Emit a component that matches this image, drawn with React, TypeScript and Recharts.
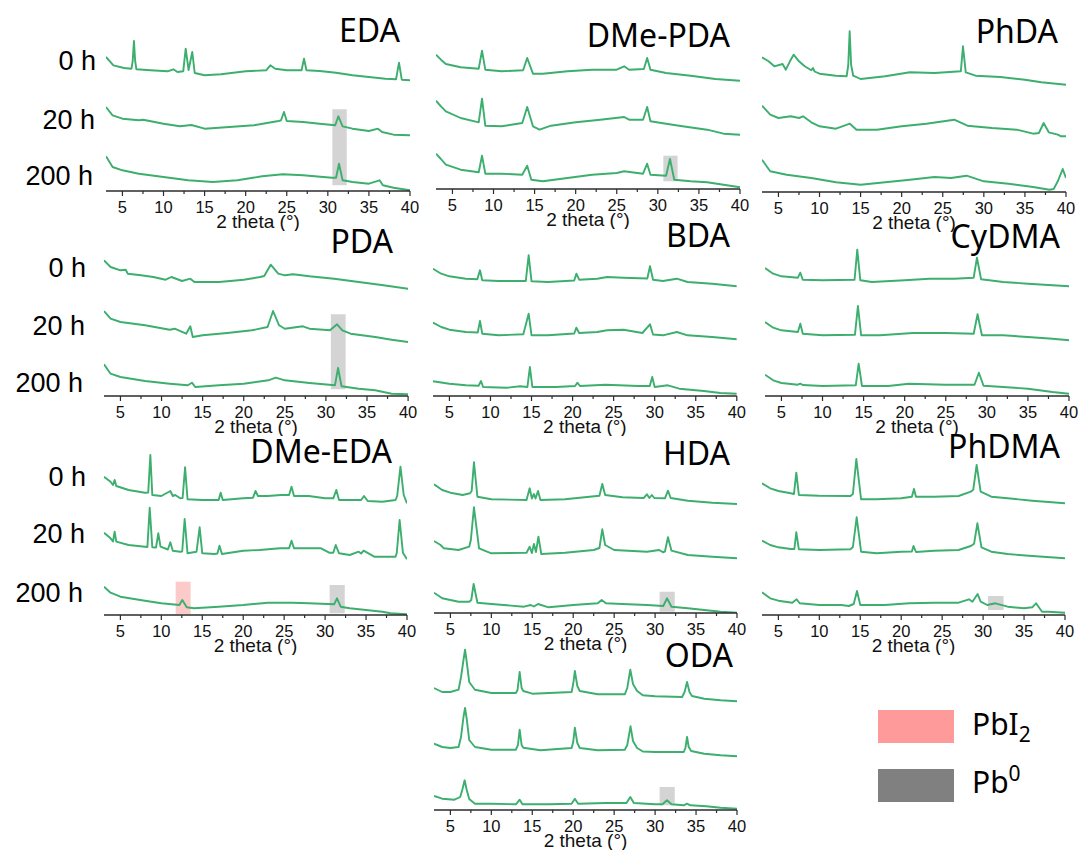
import React from "react";
import { LineChart, Line, XAxis, YAxis, ReferenceArea } from "recharts";

type Pt = [number, number];

// ---------- axis / text ----------
const TICKS = [5, 7.5, 10, 12.5, 15, 17.5, 20, 22.5, 25, 27.5, 30, 32.5, 35, 37.5, 40];
const X_LABEL = "2 theta (°)";
const TIME_LABELS = ["0 h", "20 h", "200 h"];
const LEGEND_NAMES = ["PbI", "Pb"];

// ---------- data: [2theta, intensity above own baseline] ----------
const EDA_0H: Pt[] = [[3,24],[3.9,15.7],[5.2,13],[6.1,12.3],[6.25,20],[6.4,40],[6.55,20],[6.7,11.7],[8.4,10.7],[10.5,9.7],[11.2,11.7],[11.7,9],[12.4,9.7],[12.7,32.3],[13.05,11],[13.5,29],[13.8,8],[15,5.7],[17,6.7],[20,9.7],[22.5,10.7],[23,15.7],[23.6,12.3],[25,10.7],[26.8,10.7],[27.1,22.3],[27.4,10.7],[29,10],[31,8.3],[33,5.7],[35,4],[37,2.3],[38.3,1.7],[38.66,18.3],[39,1.3],[40,0.7]];
const EDA_20H: Pt[] = [[3,29],[3.8,20.7],[5,17.3],[7,15.7],[7.5,16.3],[8,15.5],[10,12.3],[12,9.7],[13.4,11],[15,7.3],[18,9],[21,10.7],[24,15],[24.3,15.7],[24.66,24],[25,15],[27,14],[29,12.3],[30.9,10.7],[31.28,19.7],[31.8,9.7],[33,7.3],[35,5],[36.1,7.3],[36.6,4],[38,1.3],[40,0.7]];
const EDA_200H: Pt[] = [[3,34.7],[3.8,24],[5,20.7],[7,17.3],[10,14],[13,10.7],[16,9],[19,10.7],[22,14.7],[24.5,16.7],[27,15.7],[30.5,13.3],[31,13.3],[31.36,27.3],[31.8,10.7],[33,9],[35,7.3],[36.3,10.7],[36.7,5.7],[38,3.3],[40,0.7]];

const DMEPDA_0H: Pt[] = [[3,26.3],[3.6,21.3],[4.2,17],[6,13.7],[8.2,12.3],[8.6,30.3],[9,11.3],[11,9.7],[13.6,10.7],[14.1,23],[14.8,7.3],[16,7.3],[19,9.7],[22,11.3],[25,11.3],[25.9,14.7],[26.5,11.3],[28.3,12],[28.7,23],[29.1,11.3],[31,8],[34,5.3],[37,2],[40,0.3]];
const DMEPDA_20H: Pt[] = [[3,34.3],[3.6,28.7],[4.2,23.7],[6,17],[8.2,12.7],[8.6,36.3],[9,9.3],[11,8.7],[13.5,12],[14.1,28],[14.8,8.7],[15.6,5.3],[17,9.3],[20,12.7],[23,15.3],[25.9,18],[26.5,15.3],[28.2,15.3],[28.7,28],[29.1,13.7],[31,11.3],[33,8.7],[36,5.3],[38,1.3],[40,0.3]];
const DMEPDA_200H: Pt[] = [[3,35.3],[3.6,30],[4.2,24.3],[6,19.3],[8.2,16.7],[8.6,33.3],[9,15.3],[11,15.3],[13.5,14.3],[14.1,23.3],[14.6,9.3],[16,7.7],[19,11],[22,14.3],[25,16],[25.9,17.7],[28.2,15.3],[28.7,25.3],[29.1,14.3],[31,13.3],[31.48,30],[32,9.3],[34,7.7],[36,6.7],[38,4.3],[40,1.7]];

const PHDA_0H: Pt[] = [[3,27.7],[3.8,23.7],[4.5,18.7],[5.5,21],[5.9,15.3],[6.4,23.7],[6.85,30.3],[7.5,23.7],[8.2,18.7],[9,14.7],[9.2,17],[9.4,13.5],[10,11.3],[12,9.3],[13.3,8.7],[13.5,20],[13.67,53.7],[13.85,20],[14.1,9.3],[15,6],[18,8.7],[21,12.7],[24,12],[27.2,13.7],[27.46,38.7],[27.8,12.7],[29,9.3],[32,8],[35,5.3],[37,2.7],[40,0.3]];
const PHDA_20H: Pt[] = [[3,31.3],[4,22.3],[5,19],[6.5,20.7],[7.5,19],[8,20.7],[9,14.7],[10,10.7],[12,8.3],[13.7,13.3],[14.5,7.3],[17,7.3],[20,10.7],[23,13.3],[26.4,17.3],[28,11.3],[31,9],[34,7.3],[36,3.3],[36.7,4],[37.28,14],[37.9,4.7],[39,2.3],[39.4,0.7],[40,0.7]];
const PHDA_200H: Pt[] = [[3,32.3],[4,20.7],[6,17.3],[9,14],[12,9.7],[15,7.3],[18,9.7],[21,12.3],[24,15],[26,14],[27.9,16.3],[30,10.7],[33,8.3],[36,5],[38,2.3],[38.5,3],[39,10.7],[39.6,23],[40,14]];

const PDA_0H: Pt[] = [[3,28.7],[3.8,22],[5,18.7],[5.64,19.3],[5.9,15.3],[7.5,13.7],[9,12],[10.5,9.3],[11.2,12],[12.5,8],[13.5,10.3],[14,7],[17,7],[20,9.3],[22,12],[22.5,13],[23.28,24.3],[24.2,15.3],[25,13.7],[26,14.7],[28,12.7],[31,10.3],[34,7],[37,3.7],[40,0.3]];
const PDA_20H: Pt[] = [[3,31],[3.8,23.3],[5,20],[8,16.7],[11,12.3],[11.6,13.3],[13,8.3],[13.5,15.7],[13.8,5],[15,6.7],[18,9],[21,11.7],[22.9,15],[23.57,31],[24.3,16.7],[25,13.3],[27.2,15.7],[28,13.3],[30.5,11.7],[31.36,17.7],[32,11.7],[33,8.3],[36,5],[38,2.3],[40,0]];
const PDA_200H: Pt[] = [[3,31.7],[3.8,22.3],[5,19],[8,15],[11,12.3],[13.2,10.7],[13.7,13.3],[14.1,9],[17,10.7],[20,12.3],[23,15.7],[23.9,18.3],[25,15.7],[28,13],[31.1,10.7],[31.48,28],[31.9,9.7],[34,7.3],[36,5.7],[38,2.3],[40,1.7]];

const BDA_0H: Pt[] = [[3,18.3],[4,13.3],[5,10.7],[7,8.3],[8.4,7.7],[8.72,16.7],[9,6.7],[11,6],[14.3,6],[14.65,31.7],[15,5.7],[17,5],[20.2,6.5],[20.46,13.3],[20.8,7.3],[23,8.3],[24.2,10],[26.2,9.3],[29.1,8.5],[29.43,20.7],[29.8,7.3],[31,6],[32.7,8.3],[34,5],[37,3.3],[40,0.7]];
const BDA_20H: Pt[] = [[3,17.3],[4,13],[5,10.3],[7,8],[8.45,7.5],[8.72,19],[9,6.3],[11,4.7],[14,5.7],[14.65,26.3],[15,4.7],[17,4.7],[20.2,6.5],[20.46,12.3],[20.8,7],[23,8],[24.2,9.7],[26.2,10.3],[28.5,7],[29.43,15.7],[29.8,5.5],[31,4.7],[32.7,8],[34,4.7],[37,3],[40,0.7]];
const BDA_200H: Pt[] = [[3,14.7],[5,12.3],[7,10.7],[8.55,10.3],[8.85,15],[9.1,9],[12,8.3],[13.6,9.7],[14.5,9],[14.8,29],[15.1,9],[18,9],[20.3,10],[20.58,13.3],[20.9,10],[24,11.3],[28,10],[29.4,10],[29.7,19],[30,9],[31.6,10.7],[33,7.3],[36,5],[38,3],[40,2.3]];

const CYDMA_0H: Pt[] = [[3,19],[4,13.3],[5,10.7],[7,9.3],[7.3,14.3],[7.6,7.3],[10,6.7],[13.9,7.3],[14.23,37.3],[14.6,6.7],[16,5],[20,6.7],[23,8.3],[26,8.3],[28.4,9.3],[28.8,29.3],[29.3,7.7],[32,5],[35,3.3],[38,1.7],[40,0.7]];
const CYDMA_20H: Pt[] = [[3,19],[4,13.3],[5,10.7],[7,9],[7.3,17.3],[7.6,7.3],[10,5.7],[13.95,6.3],[14.31,35],[14.7,5.7],[17,5.7],[21,8],[25,8],[28.4,7.3],[28.87,26.7],[29.4,5.7],[32,5.7],[35,4],[38,2.3],[40,0.7]];
const CYDMA_200H: Pt[] = [[3,21.3],[4,15.7],[5,13],[7,11.3],[7.3,12.3],[7.6,11],[10,10],[14.05,10.7],[14.4,32.3],[14.8,10],[18,10],[20.5,12.3],[25,11.3],[28.5,11.3],[29.03,23.3],[29.6,10.3],[32,9],[35,7.3],[38,4],[40,2.3]];

const DMEEDA_0H: Pt[] = [[3,27.3],[3.8,22.3],[4.1,19],[4.3,24],[4.5,18],[6,14],[8,11.3],[8.4,11.5],[8.66,49],[8.9,9],[10,8],[11.1,13],[11.4,8],[11.7,9],[12.3,5.7],[12.6,6],[12.9,36.7],[13.2,4.7],[15,4],[17,4],[17.25,11.3],[17.5,4],[20,5.7],[21.2,6.3],[21.5,13],[21.8,8],[23,8],[24.6,9],[25.6,9],[25.9,17.3],[26.2,8],[28,8],[30,5.7],[31,5.7],[31.37,14],[31.7,4],[33,4],[34.4,4],[34.75,8],[35.2,3],[37,2.3],[38.6,4],[38.8,8],[39.2,37.3],[39.6,9],[40,0.7]];
const DMEEDA_20H: Pt[] = [[3,27.3],[3.8,21.7],[4.1,18.5],[4.3,28.3],[4.5,18.3],[6,15],[8,13.3],[8.3,13],[8.58,52.3],[8.9,12.7],[9.35,12.5],[9.63,26.7],[9.9,13.3],[10.8,10.5],[11.1,17.7],[11.4,9.3],[12.3,8.3],[12.55,8.5],[12.85,41],[13.2,6.7],[14.3,8.3],[14.68,32.7],[15,6.7],[16.5,6],[16.85,6.5],[17.1,14.3],[17.4,6],[20,9.3],[22,10],[24.5,11.7],[25.6,11.7],[25.9,19.3],[26.2,11.7],[28,11.7],[29.5,11.7],[30.5,7.3],[31,7.3],[31.3,15],[31.7,6.7],[33,5],[34.1,8.3],[34.4,6.5],[34.7,9.3],[36,3.3],[38.6,3.3],[38.75,7],[39.1,40],[39.5,7.3],[40,0.7]];
const DMEEDA_200H: Pt[] = [[3,28.3],[3.8,22.3],[5,18.3],[8,14.3],[10,11.7],[12.2,10],[12.56,15],[13.1,7.7],[14,6.7],[17,8.3],[20,10],[23,12.3],[26,12.3],[28,11.7],[31.1,10.7],[31.45,16.7],[31.9,8.3],[33,6.7],[35,5],[37,3.3],[38,1.7],[40,0.7]];

const HDA_0H: Pt[] = [[3,19.7],[4,14],[5,11.3],[6.5,9],[7.4,10.7],[7.6,13],[7.88,41.7],[8.3,7.3],[10,4.7],[14.3,4],[14.68,15.7],[14.95,5.5],[15.2,10],[15.4,5.5],[15.7,13],[16,4],[19,4.7],[23.2,8.3],[23.55,20],[23.9,9],[26,6.7],[28.6,6],[29,9.7],[29.3,6],[29.6,9],[29.9,6],[31.2,5.7],[31.57,13.3],[31.9,6],[34,3.3],[37,1.3],[40,0]];
const HDA_20H: Pt[] = [[3,18],[3.8,14],[4.2,10.7],[6,9],[7.3,12.3],[7.5,19],[7.88,51.7],[8.5,10.7],[10,5.7],[14.3,6.3],[14.68,12.3],[14.95,6],[15.2,15],[15.45,7],[15.75,22.3],[16.1,5],[19,6.3],[22.5,9],[23.2,11],[23.55,29.7],[23.9,14],[25,9],[29,7.3],[30.5,9],[31,6.7],[31.2,7.5],[31.57,21.7],[32,8.3],[34,4],[37,2.3],[40,0.7]];
const HDA_200H: Pt[] = [[3,20.3],[4,14.7],[6,11.3],[7.3,11.3],[7.55,13],[7.84,29],[8.3,10.3],[10,9],[14,6.3],[14.8,8],[15.2,6.5],[15.7,9],[17,5.7],[20,8],[23,9.7],[23.47,13],[24,9.7],[26,9],[29,8],[31,7],[31.45,14.7],[32,6.3],[34,4.7],[36,3],[38,1.3],[40,0.3]];

const PHDMA_0H: Pt[] = [[3,20.7],[4,15.7],[5,13],[6.5,10.7],[6.9,10],[7.19,31.3],[7.5,9],[10,8.3],[13.8,8],[14.1,10],[14.52,45],[15.1,4.7],[17,4.7],[20,5.7],[21.3,7.3],[21.56,15],[21.8,7.3],[24,7.3],[27,8],[28.5,12.3],[28.8,14.3],[29.21,39],[29.7,12.3],[31,7.3],[33,5.7],[36,3.3],[40,0.7]];
const PHDMA_20H: Pt[] = [[3,18.3],[4,14],[5,11.7],[6.5,10],[6.95,10],[7.19,26.7],[7.5,9.7],[10,9],[13.8,9.7],[14.1,12],[14.56,41.7],[15.1,7.3],[17,5.7],[20,7.3],[21.3,7.5],[21.5,13],[21.8,7],[24,8.3],[27,9],[28.5,13],[28.9,15.3],[29.3,35.7],[29.8,11.7],[31,7.3],[33,5],[36,3],[40,0.7]];
const PHDMA_200H: Pt[] = [[3,22.7],[4,16.7],[5,14.3],[6.7,12.3],[7.23,15.7],[7.6,11.7],[10,10],[12.7,10],[13.6,9],[14.2,11],[14.6,24],[15,10],[18,10],[21,11.7],[24,12.3],[27,12.3],[28.27,15.7],[28.7,13.3],[29.33,21],[29.7,13.3],[30.5,10],[31.5,11.7],[33,8.3],[35,6.7],[36,7.7],[36.46,11.7],[37.2,3.3],[38,3.3],[40,2.3]];

const ODA_0H: Pt[] = [[3,14],[4,10],[5,10],[6,12.3],[6.3,25],[6.6,42],[6.79,52.3],[7,40],[7.3,20],[8,12.3],[10,9],[13,9],[13.2,12],[13.46,30],[13.7,14],[13.9,11],[15,8.3],[19.8,10],[20,18],[20.2,31],[20.5,16],[20.8,11],[23,7.7],[26.3,7.7],[26.6,14],[26.97,32.3],[27.3,18],[27.8,11],[28.5,6.7],[30,5.7],[33.3,5],[33.6,10],[33.9,20],[34.2,10],[34.5,6],[36,3.3],[38,1.7],[40,0.7]];
const ODA_20H: Pt[] = [[3,13.3],[4,10],[5,9],[6,10],[6.3,20],[6.6,40],[6.79,49],[7,38],[7.3,17],[8,10],[10,7.3],[13,7.3],[13.25,12],[13.46,27.3],[13.7,12],[13.9,9.3],[16,6.7],[19.8,9],[20,15],[20.2,29.3],[20.5,14],[20.8,9],[23,6.7],[26.3,7.3],[26.6,12],[27,30.7],[27.3,16],[27.8,9],[28.5,5.5],[30,5],[33.5,5],[33.7,9],[33.9,20],[34.1,10],[34.4,6],[36,3.3],[38,1.7],[40,0.7]];
const ODA_200H: Pt[] = [[3,14],[4,11.3],[5.5,10.3],[6.2,13],[6.45,20],[6.74,29.7],[7,20],[7.3,11],[8,6.3],[10,6.3],[13,5.7],[13.46,10.3],[13.8,5.7],[17,5.7],[19.8,6.3],[20.2,11.3],[20.6,6.3],[24,7],[26.5,7],[26.97,13],[27.4,7],[30,5.7],[30.9,5.7],[31.45,9.7],[32,5.7],[33.5,4.7],[33.9,6.3],[34.3,4.7],[36.25,3.7],[38,2.3],[40,1.3]];

// vertical stacking offsets (0 h, 20 h, 200 h)
const OFFSETS: Record<string, number[]> = {
  EDA: [110, 55, 0], "DMe-PDA": [108, 54, 0], PhDA: [107, 55, 0],
  PDA: [107, 54, 0], BDA: [109, 56, 0], CyDMA: [109, 55, 0],
  "DMe-EDA": [111, 55, 0], HDA: [109, 54, 0], PhDMA: [111, 56, 0],
  ODA: [108, 53, 0],
};

// highlighted phases: [kind, x1, x2, y1, y2]
type Mark = ["PbI2" | "Pb0", number, number, number, number];
const MARKS: Record<string, Mark[]> = {
  EDA: [["Pb0", 30.55, 32.3, 5.7, 81.7]],
  "DMe-PDA": [["Pb0", 30.67, 32.4, 7.7, 33.3]],
  PDA: [["Pb0", 30.6, 32.4, 6.7, 81.7]],
  "DMe-EDA": [["PbI2", 11.75, 13.58, 1, 33.3], ["Pb0", 30.55, 32.4, 1.7, 30]],
  HDA: [["Pb0", 30.55, 32.4, 1.3, 21.3]],
  PhDMA: [["Pb0", 30.6, 32.5, 5, 19]],
  ODA: [["Pb0", 30.55, 32.4, 4.7, 23]],
};

const SERIES: Record<string, Pt[][]> = {
  EDA: [EDA_0H, EDA_20H, EDA_200H],
  "DMe-PDA": [DMEPDA_0H, DMEPDA_20H, DMEPDA_200H],
  PhDA: [PHDA_0H, PHDA_20H, PHDA_200H],
  PDA: [PDA_0H, PDA_20H, PDA_200H],
  BDA: [BDA_0H, BDA_20H, BDA_200H],
  CyDMA: [CYDMA_0H, CYDMA_20H, CYDMA_200H],
  "DMe-EDA": [DMEEDA_0H, DMEEDA_20H, DMEEDA_200H],
  HDA: [HDA_0H, HDA_20H, HDA_200H],
  PhDMA: [PHDMA_0H, PHDMA_20H, PHDMA_200H],
  ODA: [ODA_0H, ODA_20H, ODA_200H],
};

// ---------- layout ----------
const LAYOUT: { name: string; left: number; right: number; axisY: number; tx: number; ty: number }[] = [
  { name: "EDA", left: 106, right: 410, axisY: 190.7, tx: 400, ty: 41.7 },
  { name: "DMe-PDA", left: 436, right: 740, axisY: 189.3, tx: 730, ty: 46.7 },
  { name: "PhDA", left: 761.7, right: 1065.7, axisY: 192.3, tx: 1058, ty: 43.3 },
  { name: "PDA", left: 104.2, right: 408.3, axisY: 395.7, tx: 393, ty: 253.3 },
  { name: "BDA", left: 432.9, right: 736.7, axisY: 395.7, tx: 730, ty: 246.7 },
  { name: "CyDMA", left: 765.3, right: 1069.3, axisY: 395.7, tx: 1060, ty: 248.3 },
  { name: "DMe-EDA", left: 104.3, right: 407.3, axisY: 615, tx: 392, ty: 463.3 },
  { name: "HDA", left: 434.3, right: 737.3, axisY: 613, tx: 730, ty: 465 },
  { name: "PhDMA", left: 762, right: 1065, axisY: 615, tx: 1060, ty: 458.3 },
  { name: "ODA", left: 434.3, right: 737.3, axisY: 809.7, tx: 733, ty: 666.7 },
];

const ROW_LABELS: { row: number; right: number[]; base: number[] }[] = [
  { row: 0, right: [96, 95, 93], base: [70, 129.3, 185] },
  { row: 1, right: [86, 85, 83], base: [276.7, 335, 391.7] },
  { row: 2, right: [86, 85, 83], base: [486, 543.3, 601.7] },
];

const GREEN = "#3cae6e";
const AXIS = "#2b2b2b";
const PLOT_H = 175;
const AXIS_H = 40;
const SIDE = 20;
const MARK_FILL = { PbI2: "#fdcaca", Pb0: "#d4d4d4" };
const ARIAL = "'Liberation Sans', Arial, sans-serif";
const SANS = "'Noto Sans', 'Open Sans', sans-serif";

const Tick = (props: any) => {
  const { x, y, payload } = props;
  const v = payload.value as number;
  const major = v % 5 === 0;
  return (
    <g>
      <line x1={x} x2={x} y1={y} y2={y + (major ? 5 : 3)} stroke={AXIS} strokeWidth={1.2} />
      {major && (
        <text x={x} y={y + 22} textAnchor="middle" fontSize={16.5} fontFamily={ARIAL} fill="#111">
          {v}
        </text>
      )}
    </g>
  );
};

function Panel({ cfg }: { cfg: (typeof LAYOUT)[number] }) {
  const plotW = cfg.right - cfg.left;
  const offs = OFFSETS[cfg.name];
  const traces = SERIES[cfg.name].map((t, i) => t.map(([x, y]) => ({ x, y: y + offs[i] })));
  const marks = MARKS[cfg.name] || [];
  return (
    <div style={{ position: "absolute", left: cfg.left - SIDE, top: cfg.axisY - PLOT_H }}>
      <LineChart
        width={plotW + 2 * SIDE}
        height={PLOT_H + AXIS_H}
        margin={{ top: 0, right: SIDE, bottom: 0, left: SIDE }}
        style={{ overflow: "visible" }}
      >
        <XAxis
          type="number"
          dataKey="x"
          domain={[3, 40]}
          ticks={TICKS}
          interval={0}
          allowDataOverflow
          height={AXIS_H}
          tickSize={0}
          tickMargin={0}
          tickLine={false}
          tick={<Tick />}
          axisLine={{ stroke: AXIS, strokeWidth: 1.5 }}
          label={{ value: X_LABEL, position: "insideBottom", offset: 3, fontSize: 19, fontFamily: ARIAL, fill: "#111" }}
        />
        <YAxis hide type="number" domain={[0, PLOT_H]} allowDataOverflow />
        {marks.map((m, i) => (
          <ReferenceArea
            key={"m" + i}
            x1={m[1]}
            x2={m[2]}
            y1={m[3]}
            y2={m[4]}
            fill={MARK_FILL[m[0]]}
            fillOpacity={1}
            stroke="none"
          />
        ))}
        {traces.map((d, i) => (
          <Line
            key={i}
            data={d}
            dataKey="y"
            type="linear"
            stroke={GREEN}
            strokeWidth={1.9}
            strokeLinejoin="round"
            dot={false}
            activeDot={false}
            isAnimationActive={false}
          />
        ))}
      </LineChart>
    </div>
  );
}

export default function App() {
  return (
    <div style={{ position: "absolute", left: 0, top: 0, width: 1079, height: 852, background: "#fff", overflow: "hidden" }}>
      {LAYOUT.map((cfg) => (
        <Panel key={cfg.name} cfg={cfg} />
      ))}
      <svg width={1079} height={852} style={{ position: "absolute", left: 0, top: 0, pointerEvents: "none" }}>
        {LAYOUT.map((cfg) => (
          <text key={cfg.name} x={cfg.tx} y={cfg.ty} textAnchor="end" fontSize={32} fontFamily={SANS} fill="#000">
            {cfg.name}
          </text>
        ))}
        {ROW_LABELS.map((r) =>
          TIME_LABELS.map((t, i) => (
            <text key={r.row + t} x={r.right[i]} y={r.base[i]} textAnchor="end" fontSize={27} fontFamily={ARIAL} fill="#000">
              {t}
            </text>
          ))
        )}
        <rect x={878} y={710} width={76} height={33} fill="#ff9a9a" />
        <rect x={878} y={769} width={76} height={33} fill="#808080" />
        <text x={972} y={735} fontSize={30} fontFamily={SANS} fill="#000">
          {LEGEND_NAMES[0]}
          <tspan fontSize={21} dy={7}>2</tspan>
        </text>
        <text x={972} y={793} fontSize={30} fontFamily={SANS} fill="#000">
          {LEGEND_NAMES[1]}
          <tspan fontSize={21} dy={-12}>0</tspan>
        </text>
      </svg>
    </div>
  );
}
